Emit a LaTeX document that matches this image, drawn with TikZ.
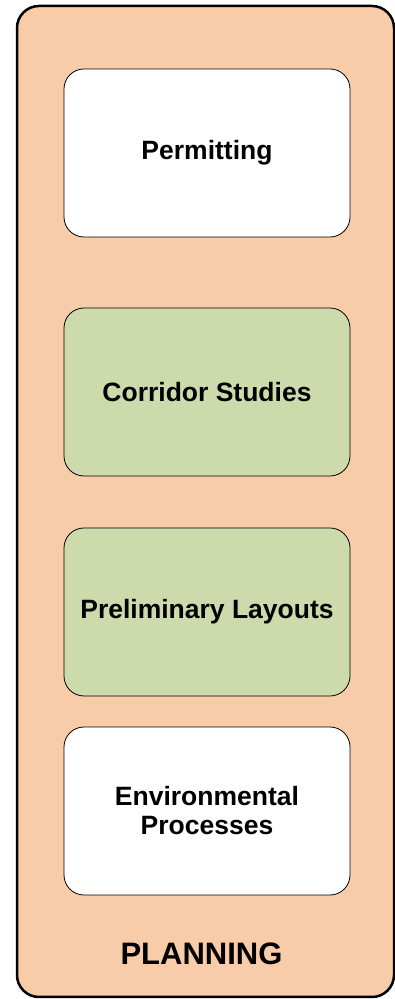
\documentclass[tikz,border=0pt]{standalone}
\usepackage{fontspec}
\setmainfont{Liberation Sans}
\usepackage{tikz}
\definecolor{peach}{HTML}{F8CCA8}
\definecolor{sage}{HTML}{CDDAAB}
\tikzset{
  phasebox/.style={draw=black, line width=0.8pt, rounded corners=20pt,
    minimum width=286pt, minimum height=168pt, align=center,
    font=\fontsize{26.5}{29}\selectfont\bfseries},
}

\begin{document}
\begin{tikzpicture}[x=1pt, y=1pt]
  \useasboundingbox (0, 0) rectangle (395, 999);

  % Outer frame for the planning stage
  \draw[line width=2.5pt, fill=peach, rounded corners=22pt] (17, 2) rectangle (394, 993);

  % Tasks inside the stage
  \node[phasebox, fill=white] (permit) at (207, 846) {Permitting};
  \node[phasebox, fill=sage] (corridor) at (207, 607) {Corridor Studies};
  \node[phasebox, fill=sage] (layout) at (207, 387) {Preliminary Layouts};
  \node[phasebox, fill=white] (enviro) at (207, 188) {Environmental\\Processes};

  % Stage label
  \node[font=\fontsize{31}{36}\selectfont\bfseries] (stage) at (201.5, 45.5) {PLANNING};
\end{tikzpicture}
\end{document}
